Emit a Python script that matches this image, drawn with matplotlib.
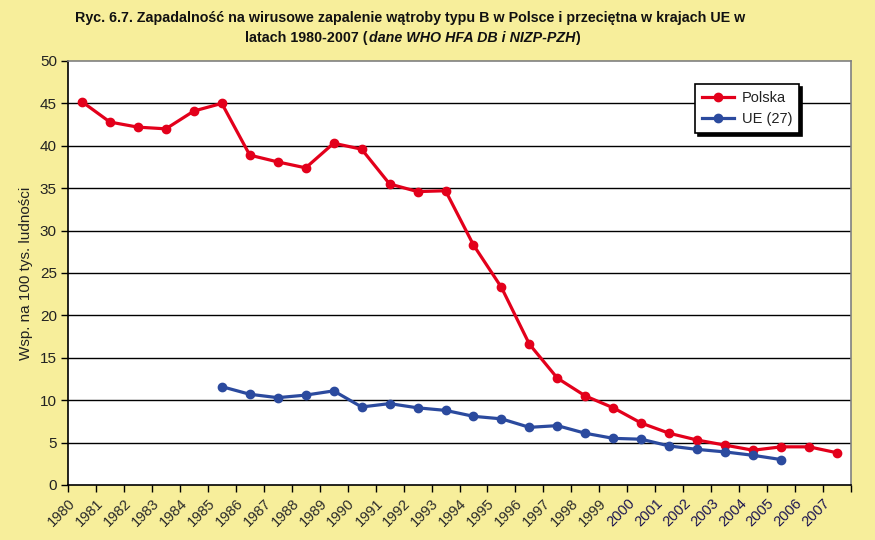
import matplotlib
matplotlib.use("Agg")
import matplotlib.pyplot as plt
import numpy as np

years = list(range(1980, 2008))
polska = [45.2, 42.8, 42.2, 42.0, 44.1, 45.0, 38.9, 38.1, 37.4, 40.3, 39.6, 35.5, 34.6, 34.7,
          28.3, 23.3, 16.6, 12.6, 10.5, 9.1, 7.3, 6.1, 5.3, 4.7, 4.1, 4.5, 4.5, 3.8]
ue_years = list(range(1985, 2006))
ue = [11.6, 10.7, 10.3, 10.6, 11.1, 9.2, 9.6, 9.1, 8.8, 8.1, 7.8, 6.8, 7.0, 6.1, 5.5, 5.4,
      4.6, 4.2, 3.9, 3.5, 3.0]
yticks = list(range(0, 55, 5))

plt.rcParams['font.family'] = ['Liberation Sans', 'DejaVu Sans']
bg = '#F7EE9B'
fig = plt.figure(figsize=(8.75, 5.4), dpi=100, facecolor=bg)
ax = fig.add_axes([68/875, 55/540, (851-68)/875, (485-61)/540])
ax.set_facecolor('white')

xp = np.arange(len(years))
xu = np.array([years.index(y) for y in ue_years])
ax.plot(xp, polska, color='#E3001B', lw=2.3, marker='o', ms=6, label='Polska', zorder=3)
ax.plot(xu, ue, color='#2B4A9E', lw=2.3, marker='o', ms=6, label='UE (27)', zorder=3)

ax.set_xlim(-0.5, len(years) - 0.5)
ax.set_ylim(0, 50)
ax.set_yticks(yticks)
ax.set_yticklabels([str(v) for v in yticks], fontsize=11, color='#222222')
for v in yticks[1:-1]:
    ax.axhline(v, color='black', lw=1, zorder=1)

bounds = np.arange(-0.5, len(years) + 0.5, 1.0)
ax.set_xticks(bounds)
labels = [str(y) for y in years] + ['']
ax.set_xticklabels(labels, rotation=45, ha='right', va='top', fontsize=10.5,
                   rotation_mode='anchor')
for lab, y in zip(ax.get_xticklabels(), years + [None]):
    lab.set_color('#1B1450' if (y is not None and y >= 2000) else '#2a2a2a')
ax.tick_params(axis='x', length=5, width=1, color='black', pad=3)
ax.tick_params(axis='y', length=5, width=1, color='black', pad=3)

ax.spines['left'].set_color('black')
ax.spines['bottom'].set_color('black')
ax.spines['top'].set_color('#808080')
ax.spines['right'].set_color('#808080')
for s in ax.spines.values():
    s.set_linewidth(1.2)

ax.set_ylabel('Wsp. na 100 tys. ludności', fontsize=11, color='#222222', labelpad=5)

leg = ax.legend(loc='upper left', bbox_to_anchor=((695-68)/783, (485-84)/424), fontsize=10.5,
                frameon=True, fancybox=False, shadow={'color': 'black', 'alpha': 1.0},
                borderpad=0.5, handlelength=2.2, handletextpad=0.5, labelspacing=0.45,
                borderaxespad=0, edgecolor='black')
leg.get_frame().set_linewidth(1.2)
for t in leg.get_texts():
    t.set_color('#222222')

tfs = 10.3
fig.text(410/875, 1 - 18/540, 'Ryc. 6.7. Zapadalność na wirusowe zapalenie wątroby typu B w Polsce i przeciętna w krajach UE w',
         ha='center', va='center', fontsize=tfs, fontweight='bold', color='#111111')

# second title line assembled from pieces
parts = [('latach 1980-2007 (', 'normal'), ('dane WHO HFA DB i NIZP-PZH', 'italic'), (')', 'normal')]
renderer = fig.canvas.get_renderer()
texts = []
for s, st in parts:
    t = fig.text(0, 1 - 38/540, s, ha='left', va='center', fontsize=tfs, fontweight='bold',
                 fontstyle=st, color='#111111')
    texts.append(t)
widths = [t.get_window_extent(renderer).width for t in texts]
total = sum(widths)
x0 = 412 - total / 2
for t, w in zip(texts, widths):
    t.set_x(x0 / 875)
    x0 += w + 1

fig.savefig('out.png', dpi=100, facecolor=bg)
